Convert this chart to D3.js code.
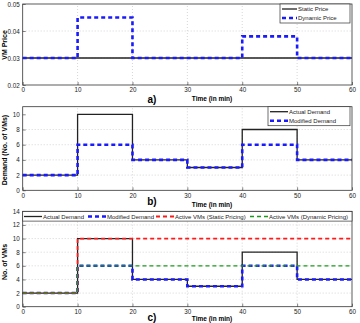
<!DOCTYPE html>
<html>
<head>
<meta charset="utf-8">
<script src="https://d3js.org/d3.v7.min.js"></script>
<style>
  body { margin: 0; background: #fff; }
  text { font-family: "Liberation Sans", Arial, sans-serif; }
</style>
</head>
<body>
<svg width="360" height="323"></svg>
<script>
// step boundaries (minutes)
var times = [0, 10, 20, 30, 40, 50, 60]
var xTicks = [0, 10, 20, 30, 40, 50, 60]

// panel a - price per interval
var staticPrice = [0.03, 0.03, 0.03, 0.03, 0.03, 0.03]
var dynamicPrice = [0.03, 0.045, 0.03, 0.03, 0.038, 0.03]
var priceTicks = [0.02, 0.03, 0.04, 0.05]

// panel b / c - VMs per interval
var actualDemand = [2, 10, 4, 3, 8, 4]
var modifiedDemand = [2, 6, 4, 3, 6, 4]
var activeStatic = [2, 10, 10, 10, 10, 10]
var activeDynamic = [2, 6, 6, 6, 6, 6]
var demandTicks = [0, 2, 4, 6, 8, 10]
var vmTicks = [0, 2, 4, 6, 8, 10, 12, 14]

var svg = d3.select("svg")
var x = d3.scaleLinear().domain([0, 60]).range([22.7, 352])

function steps(vals) {
  var pts = vals.map((v, i) => [times[i], v])
  pts.push([times[times.length - 1], vals[vals.length - 1]])
  return pts
}

function panel(o) {
  var y = d3.scaleLinear().domain(o.domain).range(o.range)
  var g = svg.append("g")
  var y0 = o.range[0], y1 = o.range[1]

  // grid
  g.selectAll(".gx").data(xTicks.slice(1, -1)).enter().append("line")
    .attr("x1", d => x(d)).attr("x2", d => x(d)).attr("y1", y0).attr("y2", y1)
    .attr("stroke", "#bbb").attr("stroke-width", 0.6).attr("stroke-dasharray", "1,2")
  g.selectAll(".gy").data(o.ticks.slice(1, -1)).enter().append("line")
    .attr("x1", x(0)).attr("x2", x(60)).attr("y1", d => y(d)).attr("y2", d => y(d))
    .attr("stroke", "#bbb").attr("stroke-width", 0.6).attr("stroke-dasharray", "1,2")

  // axes with inward ticks
  var xa = d3.axisBottom(x).tickValues(xTicks).tickSize(-3).tickPadding(3).tickFormat(d3.format("d"))
  var ya = d3.axisLeft(y).tickValues(o.ticks).tickSize(-3).tickPadding(3).tickFormat(o.fmt)
  var gx = g.append("g").attr("transform", `translate(0,${y0})`).call(xa)
  var gy = g.append("g").attr("transform", `translate(${x(0)},0)`).call(ya)
  ;[gx, gy].forEach(a => {
    a.select(".domain").remove()
    a.selectAll("line").attr("stroke", "#333").attr("stroke-width", 0.6)
    a.selectAll("text").attr("font-size", 6.3).attr("fill", "#222")
      .style("font-family", "Liberation Sans, Arial, sans-serif")
  })

  // lines
  var line = d3.line().x(d => x(d[0])).y(d => y(d[1])).curve(d3.curveStepAfter)
  o.series.forEach(s => {
    g.append("path").datum(steps(s.vals)).attr("d", line)
      .attr("fill", "none").attr("stroke", s.color).attr("stroke-width", s.w)
      .attr("stroke-dasharray", s.dash || null)
  })

  // box
  g.append("rect").attr("x", x(0)).attr("y", y1).attr("width", x(60) - x(0)).attr("height", y0 - y1)
    .attr("fill", "none").attr("stroke", "#333").attr("stroke-width", 0.8)

  // labels
  g.append("text").attr("transform", `translate(7,${o.ylabY}) rotate(-90)`)
    .attr("text-anchor", "middle").attr("font-size", 7).attr("font-weight", "bold").text(o.ylabel)
  g.append("text").attr("x", 212).attr("y", o.xlabY).attr("text-anchor", "middle")
    .attr("font-size", 6.5).attr("font-weight", "bold").text("Time (in min)")
  g.append("text").attr("x", 152).attr("y", o.tagY).attr("text-anchor", "middle")
    .attr("font-size", 10).attr("font-weight", "bold").text(o.tag)

  // legend
  var L = o.legend
  g.append("rect").attr("x", L.x).attr("y", L.y).attr("width", L.w).attr("height", L.h)
    .attr("fill", "#fff").attr("stroke", "#333").attr("stroke-width", 0.7)
  L.items.forEach((it, i) => {
    var s = o.series[it.s]
    g.append("line").attr("x1", it.lx).attr("x2", it.lx + L.sw).attr("y1", it.y).attr("y2", it.y)
      .attr("stroke", s.color).attr("stroke-width", s.w).attr("stroke-dasharray", s.dash || null)
    g.append("text").attr("x", it.lx + L.sw + 1).attr("y", it.y + 2.2)
      .attr("font-size", 6).attr("fill", "#222").text(it.label)
  })
}

panel({
  domain: [0.02, 0.05], range: [85, 4], ticks: priceTicks, fmt: d3.format(".2f"),
  ylabel: "VM Price", ylabY: 45, xlabY: 101, tagY: 103, tag: "a)",
  series: [
    { vals: staticPrice, color: "#222", w: 1.3 },
    { vals: dynamicPrice, color: "#1a1aff", w: 2.6, dash: "4,3" }
  ],
  legend: { x: 280, y: 4, w: 70, h: 19, sw: 15, items: [
    { s: 0, lx: 282, y: 9, label: "Static Price" },
    { s: 1, lx: 282, y: 18, label: "Dynamic Price" }
  ] }
})

panel({
  domain: [0, 11], range: [190.3, 106.7], ticks: demandTicks, fmt: d3.format("d"),
  ylabel: "Demand (No. of VMs)", ylabY: 150, xlabY: 206.5, tagY: 205, tag: "b)",
  series: [
    { vals: actualDemand, color: "#222", w: 1.3 },
    { vals: modifiedDemand, color: "#1a1aff", w: 2.6, dash: "4,3" }
  ],
  legend: { x: 268, y: 106.7, w: 82, h: 19, sw: 18, items: [
    { s: 0, lx: 270, y: 111.7, label: "Actual Demand" },
    { s: 1, lx: 270, y: 120.7, label: "Modified Demand" }
  ] }
})

panel({
  domain: [0, 14], range: [306.7, 211.3], ticks: vmTicks, fmt: d3.format("d"),
  ylabel: "No. of VMs", ylabY: 262, xlabY: 321, tagY: 320.5, tag: "c)",
  series: [
    { vals: actualDemand, color: "#222", w: 1.3 },
    { vals: modifiedDemand, color: "#1a1aff", w: 2.6, dash: "4,3" },
    { vals: activeStatic, color: "#ff1a1a", w: 1.8, dash: "4,3" },
    { vals: activeDynamic, color: "#1a9a1a", w: 1.3, dash: "4,3" }
  ],
  legend: { x: 22.7, y: 211.6, w: 329.3, h: 9.5, sw: 18, items: [
    { s: 0, lx: 24, y: 216.5, label: "Actual Demand" },
    { s: 1, lx: 88, y: 216.5, label: "Modified Demand" },
    { s: 2, lx: 156, y: 216.5, label: "Active VMs (Static Pricing)" },
    { s: 3, lx: 250, y: 216.5, label: "Active VMs (Dynamic Pricing)" }
  ] }
})
</script>
</body>
</html>
